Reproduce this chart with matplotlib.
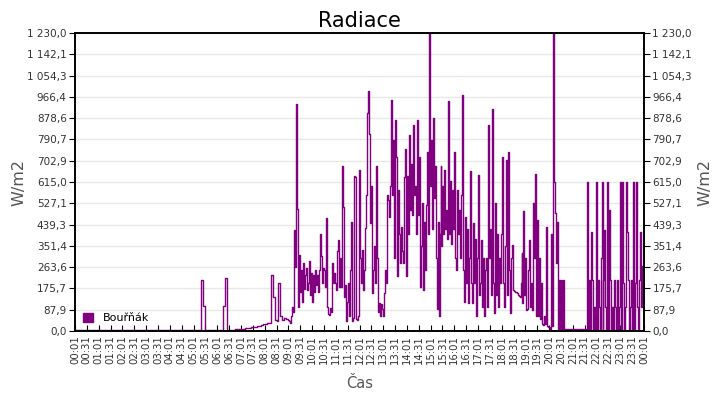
import matplotlib
matplotlib.use("Agg")
import matplotlib.pyplot as plt
from matplotlib.patches import Patch
import numpy as np

# Radiation values (W/m2)
# 00:01 - 09:00 : one value every 5 minutes (12 per hour)
night = [3] * 12
h05 = [3, 3, 3, 3, 210, 105, 3, 3, 3, 3, 3, 3]
h06 = [3, 3, 3, 105, 217, 3, 3, 4, 6, 7, 8, 8]
h07 = [9, 10, 11, 12, 14, 15, 17, 18, 20, 22, 25, 28]
h08 = [30, 32, 34, 231, 141, 45, 42, 198, 60, 45, 55, 48]
# 09:01 - 00:01 : one value every 2.5 minutes (24 per hour)
h09 = [45, 40, 35, 60, 100, 80, 417, 265, 937, 503, 100, 313,
       160, 250, 120, 280, 175, 230, 260, 170, 200, 290, 150, 240]
h10 = [120, 230, 160, 250, 190, 230, 160, 250, 400, 310, 200, 260,
       250, 180, 465, 100, 70, 66, 95, 80, 280, 200, 240, 200]
h11 = [170, 330, 375, 180, 300, 180, 680, 513, 140, 190, 40, 120,
       200, 60, 250, 451, 40, 55, 641, 637, 50, 45, 60, 665]
h12 = [480, 300, 200, 335, 170, 250, 424, 560, 900, 990, 815, 445,
       600, 155, 250, 350, 200, 680, 300, 80, 115, 60, 110, 90]
h13 = [60, 155, 250, 200, 560, 540, 470, 600, 955, 560, 790, 300,
       870, 720, 225, 580, 400, 280, 430, 330, 280, 637, 750, 225]
h14 = [640, 400, 810, 500, 690, 480, 850, 560, 600, 400, 870, 480,
       720, 183, 350, 530, 170, 450, 250, 520, 740, 400, 1230, 600]
h15 = [790, 420, 880, 550, 680, 300, 90, 450, 60, 400, 680, 350,
       600, 400, 665, 420, 500, 380, 950, 400, 620, 360, 580, 420]
h16 = [740, 300, 250, 580, 400, 500, 300, 560, 975, 250, 120, 470,
       200, 420, 115, 300, 660, 200, 115, 445, 200, 380, 60, 300]
h17 = [645, 150, 200, 375, 100, 300, 60, 250, 300, 100, 850, 300,
       420, 150, 915, 200, 73, 530, 150, 400, 100, 300, 200, 400]
h18 = [720, 200, 100, 350, 706, 150, 737, 250, 73, 300, 355, 170,
       165, 162, 160, 155, 150, 145, 140, 200, 320, 115, 495, 150]
h19 = [300, 87, 90, 250, 375, 100, 200, 87, 527, 300, 648, 60,
       460, 60, 300, 50, 200, 30, 25, 60, 30, 430, 20, 15]
h20 = [15, 10, 400, 20, 1230, 617, 485, 280, 450, 10, 210, 10,
       210, 10, 210, 8, 8, 8, 8, 8, 8, 8, 8, 8]
h21 = [8, 8, 8, 8, 8, 8, 8, 8, 8, 8, 8, 8,
       8, 0, 615, 0, 210, 0, 410, 210, 0, 100, 0, 615]
h22 = [0, 210, 100, 0, 300, 615, 0, 210, 415, 100, 0, 615,
       0, 500, 210, 0, 100, 0, 210, 100, 0, 210, 0, 100]
h23 = [615, 0, 615, 200, 0, 100, 615, 410, 210, 0, 100, 210,
       0, 615, 0, 200, 615, 100, 0, 210, 410, 100, 270, 200]
last = [270]

early = night * 5 + h05 + h06 + h07 + h08
late = h09 + h10 + h11 + h12 + h13 + h14 + h15 + h16 + h17 + h18 + h19 \
    + h20 + h21 + h22 + h23 + last
values = early + late
minutes = np.concatenate([np.arange(len(early)) * 5.0,
                          540 + np.arange(len(late)) * 2.5])

tick_labels = ["%02d:%02d" % (((m + 1) // 60) % 24, (m + 1) % 60)
               for m in range(0, 1441, 30)]
y_ticks = np.linspace(0, 1230, 15)
y_labels = [("%.1f" % v).replace(".", ",") for v in y_ticks]
y_labels = [(s[:-5] + " " + s[-5:]) if len(s) > 5 else s for s in y_labels]

fig = plt.figure(figsize=(7.2, 4.0), dpi=100)
ax = fig.add_axes([75 / 720, 69 / 400, 569 / 720, 298 / 400])

ax.plot(minutes, values, drawstyle="steps-post", color="#800080", lw=1.0)

ax.set_xlim(0, 1440)
ax.set_ylim(0, 1230)
ax.set_yticks(y_ticks)
ax.set_yticklabels(y_labels)
ax.set_xticks(np.arange(0, 1441, 30))
ax.set_xticklabels(tick_labels, rotation=90)
ax.grid(axis="y", color="#e8e8e8", lw=1)
ax.set_axisbelow(True)

ax.tick_params(axis="x", direction="in", length=4, labelsize=7.3,
               labelcolor="#333333", pad=3)
ax.tick_params(axis="y", direction="out", length=4, labelsize=7.5,
               labelcolor="#333333", pad=2)
for s in ax.spines.values():
    s.set_linewidth(1.2)

ax2 = ax.twinx()
ax2.set_ylim(0, 1230)
ax2.set_yticks(y_ticks)
ax2.set_yticklabels(y_labels)
ax2.tick_params(axis="y", direction="out", length=4, labelsize=7.5,
                labelcolor="#333333", pad=2)
for s in ax2.spines.values():
    s.set_linewidth(1.2)

ax.set_title("Radiace", fontsize=15, pad=4)
ax.set_xlabel("Čas", fontsize=10.5, color="#555555")
ax.xaxis.set_label_coords(0.5, -0.15)
ax.set_ylabel("W/m2", fontsize=11.5, color="#555555")
ax.yaxis.set_label_coords(-0.086, 0.5)
ax2.set_ylabel("W/m2", fontsize=11.5, color="#555555", rotation=90)
ax2.yaxis.set_label_coords(1.094, 0.5)

handle = Patch(facecolor="#800080", edgecolor="#800080")
ax.legend([handle], ["Bouřňák"], loc="lower left", frameon=False,
          fontsize=8, handlelength=0.9, handleheight=0.9, handletextpad=0.9,
          borderaxespad=0.3, bbox_to_anchor=(0.0, 0.0))

fig.savefig("out.png", dpi=100)
